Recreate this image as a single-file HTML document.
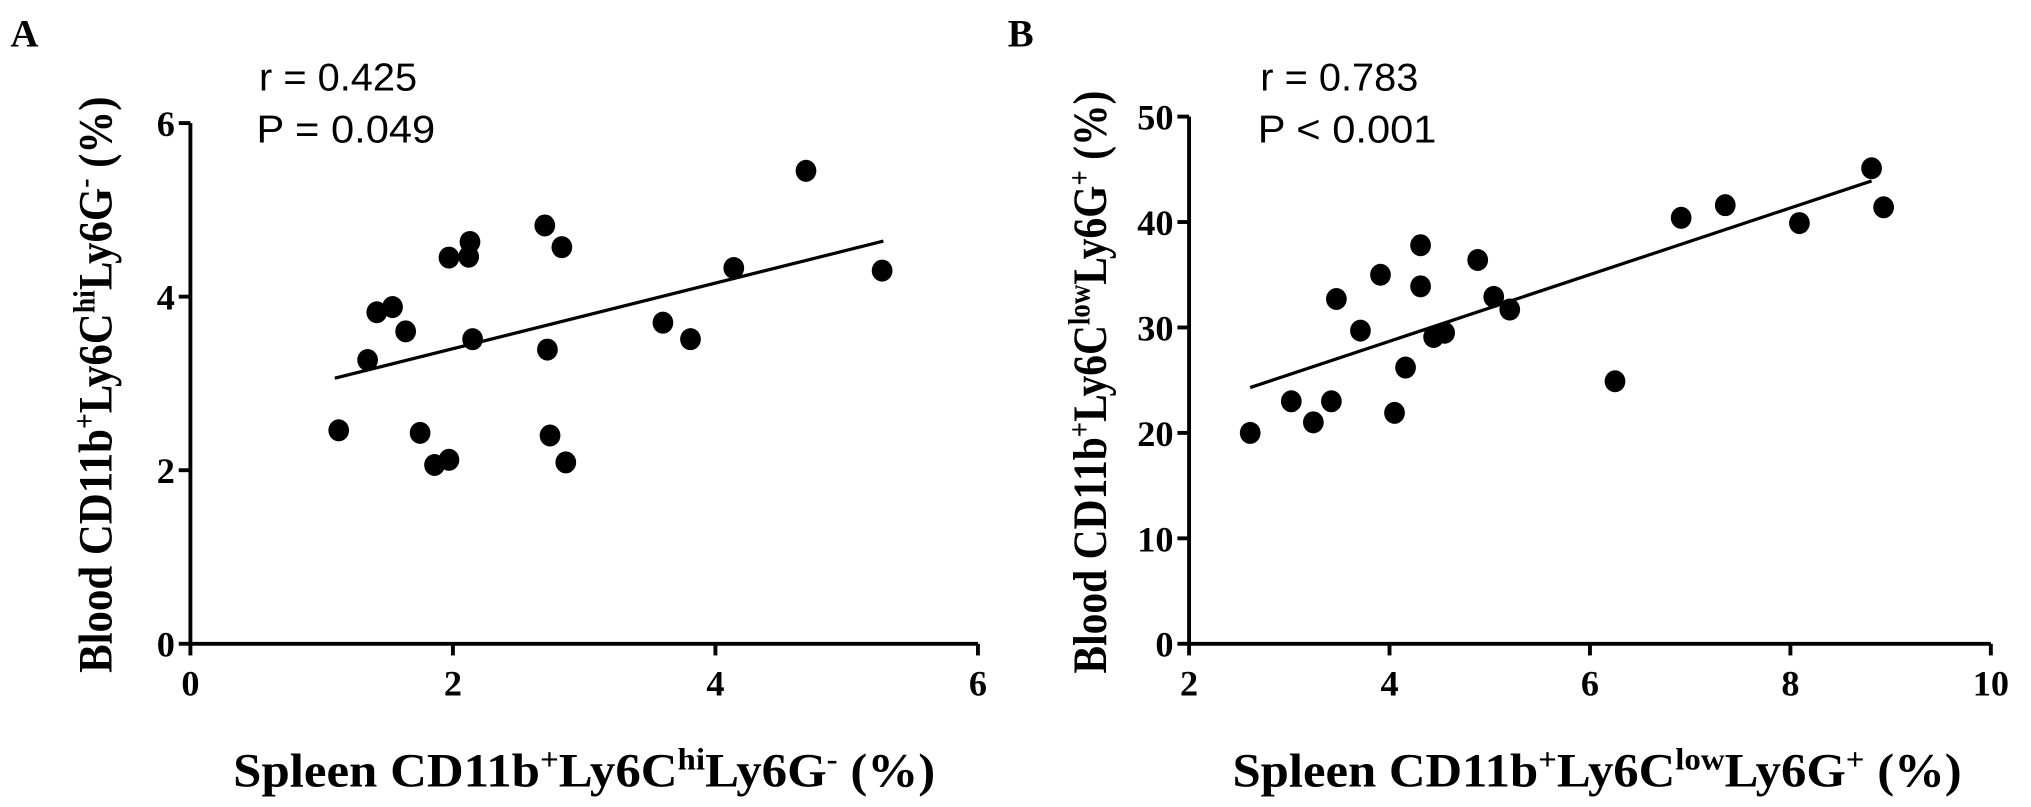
<!DOCTYPE html>
<html><head><meta charset="utf-8"><style>
html,body{margin:0;padding:0;background:#fff}
svg{display:block}
.tk{font-family:"Liberation Serif",serif;font-weight:bold;font-size:28px;fill:#000}
.ti{font-family:"Liberation Serif",serif;font-weight:bold;font-size:37px;fill:#000}
.pl{font-family:"Liberation Serif",serif;font-weight:bold;font-size:30px;fill:#000}
.an{font-family:"Liberation Sans",sans-serif;font-size:30px;fill:#000}
</style></head><body>
<svg id="chart" width="2031" height="807" viewBox="0 0 1568 623" xmlns="http://www.w3.org/2000/svg">
<text x="8" y="36" class="pl">A</text>
<text x="778" y="36" class="pl">B</text>
<text x="200" y="70" class="an" textLength="122" lengthAdjust="spacingAndGlyphs">r = 0.425</text>
<text x="198" y="110" class="an" textLength="138" lengthAdjust="spacingAndGlyphs">P = 0.049</text>
<text x="973" y="70" class="an" textLength="122" lengthAdjust="spacingAndGlyphs">r = 0.783</text>
<text x="971" y="110" class="an" textLength="138" lengthAdjust="spacingAndGlyphs">P &lt; 0.001</text>
<text class="ti" text-anchor="middle" transform="translate(86,297) rotate(-90)" textLength="445" lengthAdjust="spacingAndGlyphs">Blood CD11b<tspan dy="-13" font-size="24">+</tspan><tspan dy="13">Ly6C</tspan><tspan dy="-13" font-size="24">hi</tspan><tspan dy="13">Ly6G</tspan><tspan dy="-13" font-size="24">-</tspan><tspan dy="13"> (%)</tspan></text>
<text class="ti" text-anchor="middle" x="451" y="607" textLength="542" lengthAdjust="spacingAndGlyphs">Spleen CD11b<tspan dy="-13" font-size="24">+</tspan><tspan dy="13">Ly6C</tspan><tspan dy="-13" font-size="24">hi</tspan><tspan dy="13">Ly6G</tspan><tspan dy="-13" font-size="24">-</tspan><tspan dy="13"> (%)</tspan></text>
<text class="ti" text-anchor="middle" transform="translate(854,295) rotate(-90)" textLength="450" lengthAdjust="spacingAndGlyphs">Blood CD11b<tspan dy="-13" font-size="24">+</tspan><tspan dy="13">Ly6C</tspan><tspan dy="-13" font-size="24">low</tspan><tspan dy="13">Ly6G</tspan><tspan dy="-13" font-size="24">+</tspan><tspan dy="13"> (%)</tspan></text>
<text class="ti" text-anchor="middle" x="1233" y="607" textLength="563" lengthAdjust="spacingAndGlyphs">Spleen CD11b<tspan dy="-13" font-size="24">+</tspan><tspan dy="13">Ly6C</tspan><tspan dy="-13" font-size="24">low</tspan><tspan dy="13">Ly6G</tspan><tspan dy="-13" font-size="24">+</tspan><tspan dy="13"> (%)</tspan></text>
</svg>
<script>
const aX = [1.13,1.35,1.42,1.54,1.64,1.75,1.86,1.97,1.97,2.13,2.12,2.15,2.70,2.72,2.74,2.83,2.86,3.60,3.81,4.14,4.69,5.27];
const aY = [2.46,3.27,3.82,3.88,3.60,2.43,2.06,2.12,4.45,4.63,4.46,3.51,4.82,3.39,2.40,4.57,2.09,3.70,3.51,4.33,5.45,4.30];
const aLineX = [1.10,5.28];
const aLineY = [3.06,4.64];
const aXTicks = [0,2,4,6];
const aYTicks = [0,2,4,6];
const bX = [2.61,3.02,3.24,3.42,3.47,3.71,3.91,4.05,4.16,4.31,4.31,4.44,4.55,4.88,5.04,5.20,6.25,6.91,7.35,8.09,8.81,8.93];
const bY = [20.0,23.0,21.0,23.0,32.7,29.7,35.0,21.9,26.2,33.9,37.8,29.1,29.5,36.4,32.9,31.7,24.9,40.4,41.6,39.9,45.1,41.4];
const bLineX = [2.61,8.81];
const bLineY = [24.3,43.9];
const bXTicks = [2,4,6,8,10];
const bYTicks = [0,10,20,30,40,50];

const NS = 'http://www.w3.org/2000/svg';
const svg = document.getElementById('chart');
function mk(tag, attrs){const e=document.createElementNS(NS,tag);for(const k in attrs)e.setAttribute(k,attrs[k]);svg.appendChild(e);return e;}
function panel(p, xs, ys, lx, ly, xt, yt, x0, x1, xmin, xmax, ymin, ymax){
  const y0=497, y1=yt===aYTicks?95:90;
  const sx=v=>x0+(v-xmin)/(xmax-xmin)*(x1-x0);
  const sy=v=>y0-(v-ymin)/(ymax-ymin)*(y0-y1);
  let e=mk('line',{x1:x0,y1:sy(ymax),x2:x0,y2:y0,stroke:'#000','stroke-width':3});
  
  
  e=mk('line',{x1:x0,y1:y0,x2:x1,y2:y0,stroke:'#000','stroke-width':3});
  
  
  xt.forEach(v=>{
    const t=mk('line',{x1:sx(v),y1:y0,x2:sx(v),y2:y0+9,stroke:'#000','stroke-width':3});
    
    
    const l=mk('text',{x:sx(v),y:y0+40,'text-anchor':'middle',class:'tk'});
    l.textContent=v;
    
    
  });
  yt.forEach(v=>{
    const t=mk('line',{x1:x0-9,y1:sy(v),x2:x0,y2:sy(v),stroke:'#000','stroke-width':3});
    
    
    const l=mk('text',{x:x0-12,y:sy(v)+10,'text-anchor':'end',class:'tk'});
    l.textContent=v;
    
    
  });
  const ln=mk('line',{x1:sx(lx[0]),y1:sy(ly[0]),x2:sx(lx[1]),y2:sy(ly[1]),stroke:'#000','stroke-width':2.5});
  
  
  xs.forEach((v,i)=>{
    const c=mk('ellipse',{cx:sx(v),cy:sy(ys[i]),rx:8,ry:8.5,fill:'#000'});
    
    
  });
}
panel('panel-a', aX, aY, aLineX, aLineY, aXTicks, aYTicks, 147, 755, 0, 6, 0, 6);
panel('panel-b', bX, bY, bLineX, bLineY, bXTicks, bYTicks, 918, 1537, 2, 10, 0, 50);
</script>
</body></html>
